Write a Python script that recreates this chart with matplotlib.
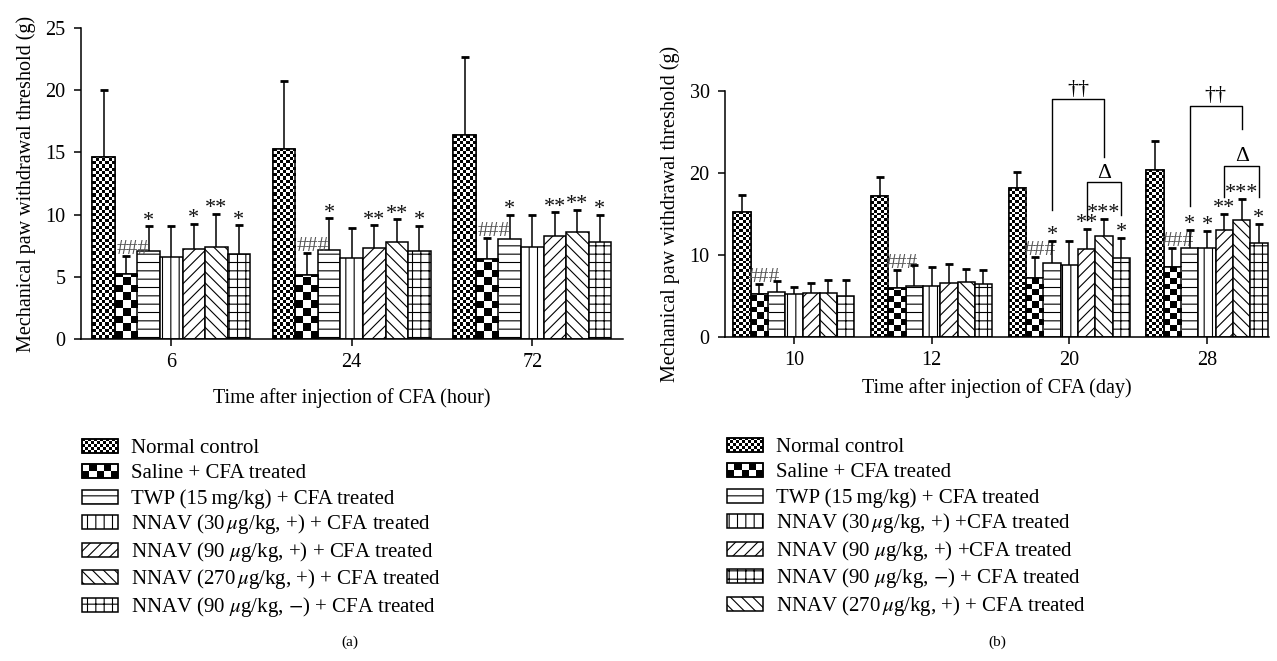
import numpy as np
import matplotlib
matplotlib.use("Agg")
import matplotlib.pyplot as plt
from matplotlib.patches import Rectangle, Patch
from matplotlib.legend_handler import HandlerBase

plt.rcParams['font.family'] = ['Liberation Serif', 'DejaVu Serif']
plt.rcParams['mathtext.fontset'] = 'stix'
plt.rcParams['hatch.linewidth'] = 0.8
plt.rcParams['font.size'] = 14.5

# ---- panel (a): hours ----
a_ticks = ["6", "24", "72"]
a_normal = [14.6, 15.3, 16.4]
a_normal_sd = [5.4, 5.4, 6.3]
a_saline = [5.24, 5.16, 6.45]
a_saline_sd = [1.40, 1.74, 1.70]
a_twp = [7.10, 7.18, 8.04]
a_twp_sd = [1.96, 2.52, 1.96]
a_nnav30 = [6.59, 6.48, 7.37]
a_nnav30_sd = [2.47, 2.42, 2.63]
a_nnav90 = [7.23, 7.31, 8.28]
a_nnav90_sd = [2.02, 1.83, 1.91]
a_nnav270 = [7.37, 7.77, 8.60]
a_nnav270_sd = [2.68, 1.85, 1.78]
a_nnav90m = [6.83, 7.07, 7.82]
a_nnav90m_sd = [2.31, 2.02, 2.15]

a_sig = [["", "", ""], ["###"] * 3, ["*"] * 3, ["", "", ""],
         ["*", "**", "**"], ["**", "**", "**"], ["*"] * 3]

# ---- panel (b): days ----
b_ticks = ["10", "12", "20", "28"]
b_normal = [15.2, 17.2, 18.2, 20.35]
b_normal_sd = [2.1, 2.3, 1.95, 3.55]
b_saline = [5.17, 5.98, 7.13, 8.47]
b_saline_sd = [1.23, 2.16, 2.56, 2.40]
b_twp = [5.42, 6.23, 9.04, 10.79]
b_twp_sd = [1.42, 2.52, 2.68, 2.24]
b_nnav30 = [5.17, 6.15, 8.75, 10.87]
b_nnav30_sd = [0.90, 2.40, 2.97, 2.03]
b_nnav90 = [5.37, 6.52, 10.75, 13.0]
b_nnav90_sd = [1.23, 2.40, 2.44, 1.99]
b_nnav270 = [5.30, 6.72, 12.3, 14.25]
b_nnav270_sd = [1.66, 1.55, 2.10, 2.60]
b_nnav90m = [5.00, 6.40, 9.57, 11.48]
b_nnav90m_sd = [1.88, 1.74, 2.52, 2.30]

b_sig = [["", "", "", ""], ["###"] * 4, ["", "", "*", "*"], ["", "", "", "*"],
         ["", "", "**", "**"], ["", "", "***", "***"], ["", "", "*", "*"]]

# comparison brackets in panel (b)
b_dagger_groups = [2, 3]
b_dagger_top = [29.0, 28.2]
b_dagger_left = [15.5, 16.0]
b_dagger_right = [22.0, 25.4]
b_delta_top = [18.9, 20.9]
b_delta_left = [14.3, 17.1]
b_delta_right = [14.9, 17.0]

a_labels = ["Normal control", "Saline + CFA treated",
            "TWP (15\u2009mg/kg) + CFA treated",
            r"NNAV (30$\,\mu$g/kg, +) + CFA treated",
            r"NNAV (90 $\mu$g/kg, +) + CFA treated",
            r"NNAV (270$\,\mu$g/kg, +) + CFA treated",
            r"NNAV (90 $\mu$g/kg, $-$) + CFA treated"]
b_labels = ["Normal control", "Saline + CFA treated",
            "TWP (15\u2009mg/kg) + CFA treated",
            r"NNAV (30$\,\mu$g/kg, +) +CFA treated",
            r"NNAV (90 $\mu$g/kg, +) +CFA treated",
            r"NNAV (90 $\mu$g/kg, $-$) + CFA treated",
            r"NNAV (270$\,\mu$g/kg, +) + CFA treated"]

# fill style of each series: ('checker', columns per bar) or a hatch
a_styles = [("checker", 7), ("checker", 3), "--", "||", "///", "\\\\\\", "++"]
b_styles = [("checker", 6), ("checker", 3), "--", "||", "///", "\\\\\\", "++"]


class HandlerIcon(HandlerBase):
    """Legend icon of fixed size, centred in a taller handle box."""

    def __init__(self, icon_h=14, checker=None):
        super().__init__()
        self.icon_h = icon_h
        self.checker = checker

    def create_artists(self, legend, orig_handle, xdescent, ydescent,
                       width, height, fontsize, trans):
        ih = self.icon_h * 72 / 100
        x0 = -xdescent
        y0 = -ydescent + (height - ih) / 2
        arts = [Rectangle((x0, y0), width, ih, fc="white", ec="k", lw=1.1,
                          hatch=orig_handle.get_hatch(), transform=trans)]
        if self.checker:
            nx, ny = self.checker
            dx, dy = width / nx, ih / ny
            for i in range(nx):
                for j in range(ny):
                    if (i + j) % 2 == 0:
                        arts.append(Rectangle((x0 + i * dx, y0 + j * dy), dx, dy,
                                              fc="k", ec="none", transform=trans))
            arts.append(Rectangle((x0, y0), width, ih, fill=False, ec="k",
                                  lw=1.1, transform=trans))
        return arts


def add_checker(ax, bar, ncols):
    p0 = ax.transData.transform((0, 0))
    p1 = ax.transData.transform((1, 1))
    sx, sy = p1[0] - p0[0], p1[1] - p0[1]
    x0, w, h = bar.get_x(), bar.get_width(), bar.get_height()
    nc = int(round(w * sx))
    nr = max(1, int(round(h * sy)))
    sq = w * sx / ncols
    ii, jj = np.mgrid[0:nr, 0:nc]
    arr = ((ii / sq).astype(int) + (jj / sq).astype(int)) % 2
    im = ax.imshow(arr, cmap="gray", vmin=0, vmax=1, extent=(x0, x0 + w, 0, h),
                   origin="lower", interpolation="nearest", aspect="auto",
                   zorder=2.1)
    im.set_clip_path(bar)


def draw_panel(ax, ticks, means, sds, sigs, styles, bw, xlim, ylim):
    ax.set_xlim(*xlim)
    ax.set_ylim(*ylim)
    x = np.arange(len(ticks))
    n = len(means)
    centers = []
    for j, (m, s, sig, st) in enumerate(zip(means, sds, sigs, styles)):
        xs = x + (j - (n - 1) / 2) * bw
        centers.append(xs)
        hatch = st if isinstance(st, str) else None
        bars = ax.bar(xs, m, bw, color="white", edgecolor="k", linewidth=1.1,
                      hatch=hatch, zorder=2)
        if hatch is None:
            for b in bars:
                add_checker(ax, b, st[1])
            ax.bar(xs, m, bw, fill=False, edgecolor="k", linewidth=1.1, zorder=2.2)
        eb = ax.errorbar(xs, m, yerr=[np.zeros(len(m)), s], fmt="none",
                         ecolor="k", elinewidth=1.1, capsize=3, capthick=2,
                         zorder=3)
        eb[1][0].set_visible(False)
        for xi, mi, si, t in zip(xs, m, s, sig):
            if not t:
                continue
            if t.startswith("#"):
                ax.annotate(t, (xi + 0.28 * bw, mi + si), xytext=(0, 1.5),
                            textcoords="offset points", ha="center",
                            va="baseline", color="#555555", fontsize=15.5)
            else:
                ax.annotate(t, (xi, mi + si), xytext=(0, 0.5),
                            textcoords="offset points", ha="center",
                            va="baseline", color="#111111", fontsize=16)
    ax.set_xlim(*xlim)
    ax.set_ylim(*ylim)
    ax.set_xticks(x)
    ax.set_xticklabels(ticks)
    for side in ("top", "right"):
        ax.spines[side].set_visible(False)
    for side in ("left", "bottom"):
        ax.spines[side].set_linewidth(1.1)
    ax.tick_params(direction="out", length=5, width=1.1, labelsize=14.5)
    ax.tick_params(axis="y", pad=6)
    ax.tick_params(axis="x", pad=5)
    return centers


fig = plt.figure(figsize=(12.77, 6.61), dpi=100)
ax_a = fig.add_axes([81 / 1277, 1 - 339 / 661, 541.5 / 1277, 311 / 661])
ax_b = fig.add_axes([725 / 1277, 1 - 336.7 / 661, 544 / 1277, 245.7 / 661])

a_means = [a_normal, a_saline, a_twp, a_nnav30, a_nnav90, a_nnav270, a_nnav90m]
a_sds = [a_normal_sd, a_saline_sd, a_twp_sd, a_nnav30_sd, a_nnav90_sd,
         a_nnav270_sd, a_nnav90m_sd]
b_means = [b_normal, b_saline, b_twp, b_nnav30, b_nnav90, b_nnav270, b_nnav90m]
b_sds = [b_normal_sd, b_saline_sd, b_twp_sd, b_nnav30_sd, b_nnav90_sd,
         b_nnav270_sd, b_nnav90m_sd]

draw_panel(ax_a, a_ticks, a_means, a_sds, a_sig, a_styles, 0.125,
           (-0.5, 2.5), (0, 25))
ax_a.set_yticks([0, 5, 10, 15, 20, 25])
cb = draw_panel(ax_b, b_ticks, b_means, b_sds, b_sig, b_styles, 0.1256,
                (-0.5, 3.45), (0, 30))
ax_b.set_yticks([0, 10, 20, 30])

ax_a.set_ylabel("Mechanical paw withdrawal threshold (g)", labelpad=7)
ax_b.set_ylabel("Mechanical paw withdrawal threshold (g)", labelpad=7)
ax_a.set_xlabel("Time after injection of CFA (hour)", labelpad=12)
ax_b.set_xlabel("Time after injection of CFA (day)", labelpad=6)

# brackets (b)
for k, g in enumerate(b_dagger_groups):
    xl, xr = cb[2][g], cb[5][g]
    ax_b.plot([xl, xl, xr, xr], [b_dagger_left[k], b_dagger_top[k],
                                 b_dagger_top[k], b_dagger_right[k]],
              color="k", lw=1.0, clip_on=False, zorder=4)
    ax_b.annotate("\u2020\u2020", ((xl + xr) / 2, b_dagger_top[k]), xytext=(0, 4),
                  textcoords="offset points", ha="center", va="baseline",
                  fontsize=16, annotation_clip=False)
    xl, xr = cb[4][g], cb[6][g]
    ax_b.plot([xl, xl, xr, xr], [b_delta_left[k], b_delta_top[k],
                                 b_delta_top[k], b_delta_right[k]],
              color="k", lw=1.0, clip_on=False, zorder=4)
    ax_b.annotate("\u0394", ((xl + xr) / 2, b_delta_top[k]), xytext=(0, 3),
                  textcoords="offset points", ha="center", va="baseline",
                  fontsize=15.5, annotation_clip=False)

# legends
hatches = [None, None, "--", "||", "///", "\\\\\\", "++"]
a_handles = [Patch(facecolor="white", edgecolor="k", linewidth=1.1, hatch=h)
             for h in hatches]
b_order = [0, 1, 2, 3, 4, 6, 5]
b_handles = [Patch(facecolor="white", edgecolor="k", linewidth=1.1,
                   hatch=hatches[i]) for i in b_order]


def handler_map(handles):
    hm = {h: HandlerIcon() for h in handles}
    hm[handles[0]] = HandlerIcon(checker=(12, 5))
    hm[handles[1]] = HandlerIcon(checker=(5, 2))
    return hm


legend_kw = dict(loc="upper left", frameon=False, handlelength=1.75,
                 handleheight=1.18, handletextpad=0.6, labelspacing=0.14,
                 borderpad=0, borderaxespad=0, fontsize=15)
fig.legend(a_handles, a_labels, bbox_to_anchor=(82 / 1277, 1 - 435 / 661),
           handler_map=handler_map(a_handles), **legend_kw)
fig.legend(b_handles, b_labels, bbox_to_anchor=(727 / 1277, 1 - 434 / 661),
           handler_map=handler_map(b_handles), **legend_kw)

fig.text(350 / 1277, 1 - 642 / 661, "(a)", ha="center", va="center", fontsize=11)
fig.text(997 / 1277, 1 - 642 / 661, "(b)", ha="center", va="center", fontsize=11)

fig.savefig("out.png", dpi=100)
